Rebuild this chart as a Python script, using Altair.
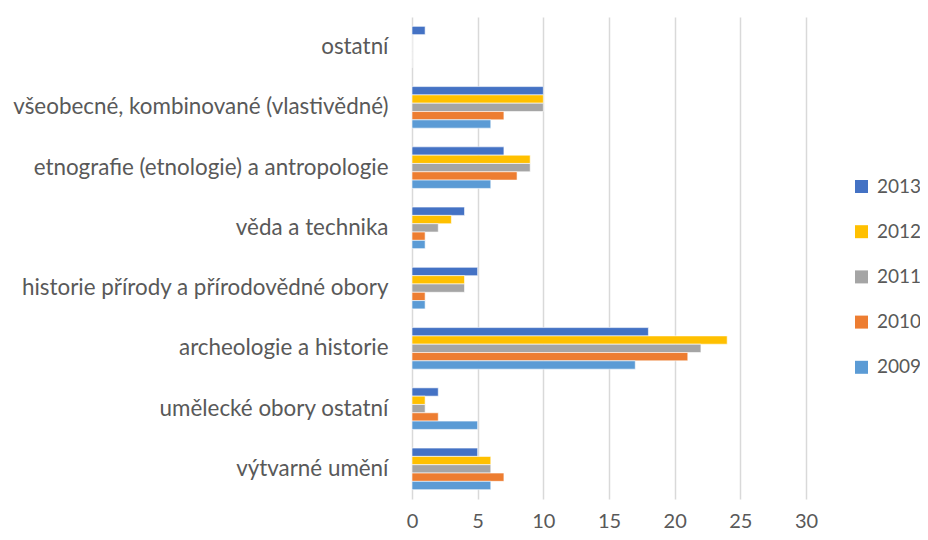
import altair as alt
import pandas as pd

categories = [
    "ostatní",
    "všeobecné, kombinované (vlastivědné)",
    "etnografie (etnologie) a antropologie",
    "věda a technika",
    "historie přírody a přírodovědné obory",
    "archeologie a historie",
    "umělecké obory ostatní",
    "výtvarné umění",
]
years = ["2013", "2012", "2011", "2010", "2009"]
colors = ["#4472C4", "#FFC000", "#A5A5A5", "#ED7D31", "#5B9BD5"]

v2013 = [1, 10, 7, 4, 5, 18, 2, 5]
v2012 = [0, 10, 9, 3, 4, 24, 1, 6]
v2011 = [0, 10, 9, 2, 4, 22, 1, 6]
v2010 = [0, 7, 8, 1, 1, 21, 2, 7]
v2009 = [0, 6, 6, 1, 1, 17, 5, 6]

x_ticks = [0, 5, 10, 15, 20, 25, 30]

series = dict(zip(years, [v2013, v2012, v2011, v2010, v2009]))
rows = []
for y in years:
    for c, v in zip(categories, series[y]):
        rows.append({"category": c, "year": y, "value": v})
df = pd.DataFrame(rows)

FONT = "Lato"
GREY = "#595959"

chart = alt.Chart(df).mark_bar(stroke="white", strokeWidth=0.6).encode(
    y=alt.Y("category:N", sort=categories, title=None,
            scale=alt.Scale(paddingInner=0.31, paddingOuter=0.155),
            axis=alt.Axis(domain=False, ticks=False, labelFontSize=22.4, labelColor=GREY,
                          labelFont=FONT, labelPadding=24, labelLimit=500)),
    x=alt.X("value:Q", title=None,
            scale=alt.Scale(domain=[0, 30], nice=False),
            axis=alt.Axis(values=x_ticks, domain=False, ticks=False, labelFontSize=20,
                          labelColor=GREY, labelFont=FONT, labelPadding=12,
                          labelFlush=False,
                          gridColor="#d9d9d9", gridWidth=1.5)),
    yOffset=alt.YOffset("year:N", sort=years),
    color=alt.Color("year:N", sort=years,
                    scale=alt.Scale(domain=years, range=colors),
                    legend=alt.Legend(title=None, orient="none", legendX=440, legendY=160,
                                      symbolType="square", symbolSize=169, symbolStrokeWidth=0,
                                      labelFontSize=19, labelColor=GREY, labelFont=FONT,
                                      rowPadding=25.2, labelOffset=6)),
).properties(
    width=394, height=482,
    autosize=alt.AutoSizeParams(type="none"),
    padding={"left": 404, "top": 9, "right": 114, "bottom": 33},
).configure_view(stroke=None)

chart.save("out.html", embed_options={"renderer": "svg", "actions": False})
